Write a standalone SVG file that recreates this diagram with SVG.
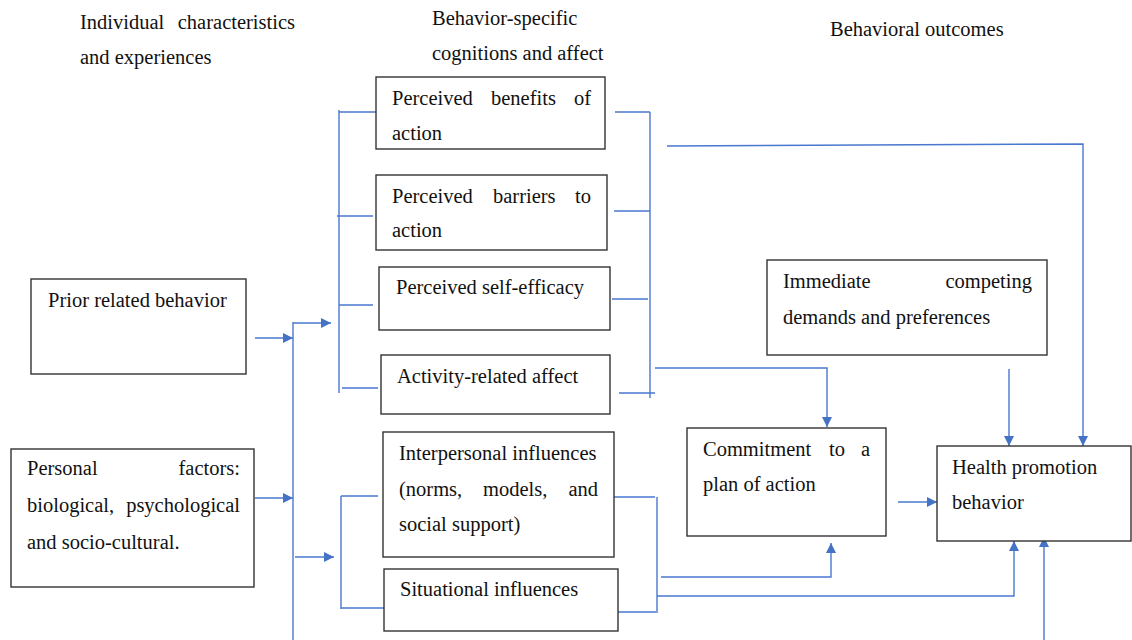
<svg xmlns="http://www.w3.org/2000/svg" width="1132" height="640" viewBox="0 0 1132 640">
<style>
text{font-family:'Liberation Serif','DejaVu Serif','Times New Roman',serif;font-size:20.5px;fill:#111}
.b{fill:#fff;stroke:#333;stroke-width:1.4}
.c{fill:none;stroke:#4a78cf;stroke-width:1.4}
.e{text-anchor:end}
</style>
<defs>
<marker id="a" viewBox="0 0 10 10" refX="10" refY="5" markerWidth="10" markerHeight="10" markerUnits="userSpaceOnUse" orient="auto">
<path d="M0,0 L10,5 L0,10 z" fill="#4472c4"/>
</marker>
</defs>
<rect width="1132" height="640" fill="#fff"/>
<g id="headers">
<text x="80" y="29">Individual</text><text class="e" x="295" y="29">characteristics</text>
<text x="80" y="64">and experiences</text>
<text x="432" y="25">Behavior-specific</text>
<text x="432" y="60">cognitions and affect</text>
<text x="830" y="36">Behavioral outcomes</text>
</g>
<g id="connectors">
<path class="c" d="M255,338 H293" marker-end="url(#a)"/>
<path class="c" d="M293,322 V640"/>
<path class="c" d="M293,323 H331" marker-end="url(#a)"/>
<path class="c" d="M339,110 V393"/>
<path class="c" d="M339,112 H376 M337,216 H373 M339,305 H373 M342,388 H378"/>
<path class="c" d="M255,498 H293" marker-end="url(#a)"/>
<path class="c" d="M295,557 H334" marker-end="url(#a)"/>
<path class="c" d="M341,496 V609 M341,496 H378 M341,608 H384"/>
<path class="c" d="M615,112 H650 M614,211 H650 M612,299 H648 M619,393 H655"/>
<path class="c" d="M650,112 V398"/>
<path class="c" d="M667,146 L1083,144 V446" marker-end="url(#a)"/>
<path class="c" d="M655,368 H827 V427" marker-end="url(#a)"/>
<path class="c" d="M1009,369 V446" marker-end="url(#a)"/>
<path class="c" d="M614,497 H655 M618,612 H656 M657,497 V613"/>
<path class="c" d="M661,577 H831 V543" marker-end="url(#a)"/>
<path class="c" d="M657,596 H1014 V541" marker-end="url(#a)"/>
<path class="c" d="M1044,640 V537" marker-end="url(#a)"/>
<path class="c" d="M898,502 H937" marker-end="url(#a)"/>
</g>
<g id="prior">
<rect class="b" x="31" y="279" width="215" height="95"/>
<text x="48" y="307">Prior related behavior</text>
</g>
<g id="personal">
<rect class="b" x="11" y="449" width="243" height="138"/>
<text x="27" y="475">Personal</text><text class="e" x="240" y="475">factors:</text>
<text x="27" y="512">biological,</text><text class="e" x="240" y="512">psychological</text>
<text x="27" y="549">and socio-cultural.</text>
</g>
<g id="benefits">
<rect class="b" x="376" y="77" width="229" height="72"/>
<text x="392" y="105">Perceived</text><text x="491" y="105">benefits</text><text class="e" x="591" y="105">of</text>
<text x="392" y="140">action</text>
</g>
<g id="barriers">
<rect class="b" x="376" y="175" width="231" height="75"/>
<text x="392" y="203">Perceived</text><text x="493" y="203">barriers</text><text class="e" x="591" y="203">to</text>
<text x="392" y="237">action</text>
</g>
<g id="selfefficacy">
<rect class="b" x="379" y="267" width="231" height="63"/>
<text x="396" y="294">Perceived self-efficacy</text>
</g>
<g id="affect">
<rect class="b" x="381" y="355" width="229" height="59"/>
<text x="397" y="383">Activity-related affect</text>
</g>
<g id="interpersonal">
<rect class="b" x="383" y="432" width="231" height="125"/>
<text x="399" y="460">Interpersonal influences</text>
<text x="399" y="496">(norms,</text><text x="483" y="496">models,</text><text class="e" x="598" y="496">and</text>
<text x="399" y="531">social support)</text>
</g>
<g id="situational">
<rect class="b" x="384" y="569" width="234" height="62"/>
<text x="400" y="596">Situational influences</text>
</g>
<g id="competing">
<rect class="b" x="767" y="260" width="280" height="95"/>
<text x="783" y="288">Immediate</text><text class="e" x="1032" y="288">competing</text>
<text x="783" y="324">demands and preferences</text>
</g>
<g id="commitment">
<rect class="b" x="687" y="428" width="199" height="108"/>
<text x="703" y="456">Commitment</text><text x="829" y="456">to</text><text class="e" x="870" y="456">a</text>
<text x="703" y="491">plan of action</text>
</g>
<g id="health">
<rect class="b" x="937" y="446" width="194" height="95"/>
<text x="952" y="474">Health promotion</text>
<text x="952" y="509">behavior</text>
</g>
</svg>
